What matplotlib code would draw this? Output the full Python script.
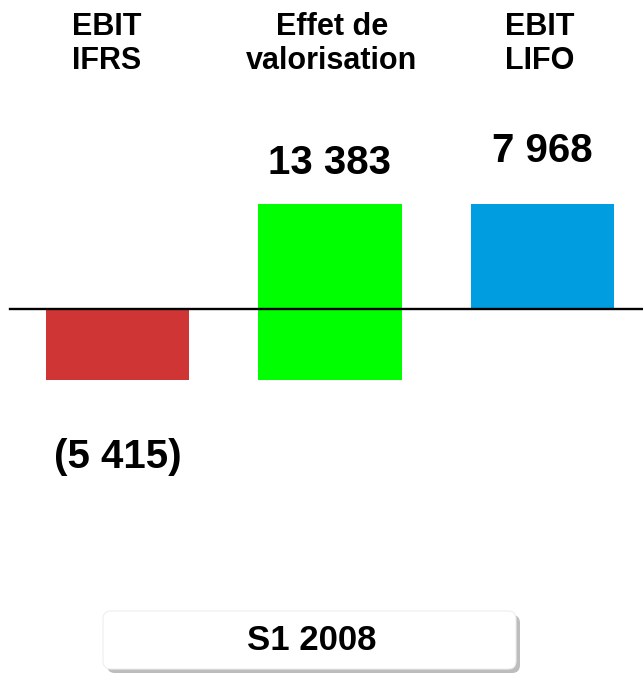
import matplotlib.pyplot as plt
from matplotlib.patches import FancyBboxPatch

plt.rcParams["font.family"] = ["Liberation Sans", "DejaVu Sans"]

categories = ["EBIT\nIFRS", "Effet de\nvalorisation", "EBIT\nLIFO"]
values = [-5415, 13383, 7968]
bottoms = [0, -5415, 0]
colors = ["#D03535", "#00FF00", "#009EE0"]
period = "S1 2008"


def fmt(v):
    s = f"{abs(v):,}".replace(",", " ")
    return f"({s})" if v < 0 else s


fig = plt.figure(figsize=(6.43, 6.74), dpi=100)
ax = fig.add_axes([0, 0, 1, 1])
ax.set_axis_off()

x = list(range(len(values)))
ax.bar(x, values, bottom=bottoms, width=0.673, color=colors, zorder=2)

units_per_px = 75.9
ax.set_ylim(-(674 - 309) * units_per_px, 309 * units_per_px)
ax.set_xlim(-117.5 / 212.5, (643 - 117.5) / 212.5)
ax.axhline(0, xmin=10 / 643, xmax=1, color="black", lw=1.7, zorder=3)

# category headers
label_dx = [-11, 2, -3]
for xi, cat, dx in zip(x, categories, label_dx):
    ax.annotate(cat, xy=(xi, 1 - 44 / 674), xycoords=("data", "axes fraction"),
                xytext=(dx, 0), textcoords="offset pixels",
                ha="center", va="center", fontsize=22, fontweight="bold",
                multialignment="center", linespacing=1.2)

# value labels, placed relative to the end of each bar
value_dy = [-77, 41, 53]
for xi, v, b, dy in zip(x, values, bottoms, value_dy):
    ax.annotate(fmt(v), xy=(xi, b + v), xytext=(0, dy), textcoords="offset pixels",
                ha="center", va="center", fontsize=29, fontweight="bold")

# period box with shadow
shadow = FancyBboxPatch((107 / 643, 1 - 673 / 674), 413 / 643, 58 / 674,
                        boxstyle="round,pad=0,rounding_size=0.012",
                        transform=fig.transFigure, facecolor="#BDBDBD",
                        edgecolor="none", zorder=1)
box = FancyBboxPatch((103 / 643, 1 - 669 / 674), 413 / 643, 58 / 674,
                     boxstyle="round,pad=0,rounding_size=0.012",
                     transform=fig.transFigure, facecolor="white",
                     edgecolor="#EEEEEE", lw=0.8, zorder=2)
fig.patches.extend([shadow, box])
fig.text(312 / 643, 1 - 640 / 674, period, ha="center", va="center",
         fontsize=25, fontweight="bold", zorder=3)

fig.savefig("out.png", dpi=100)
